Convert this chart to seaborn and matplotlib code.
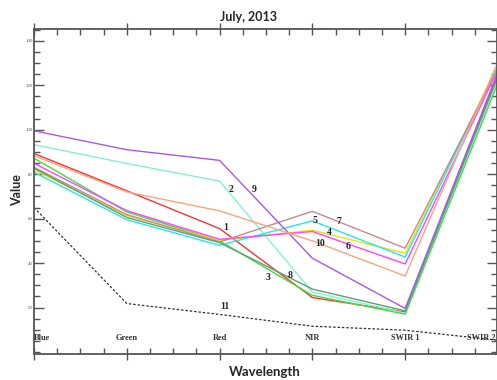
import matplotlib
matplotlib.use("Agg")
import matplotlib.pyplot as plt
from matplotlib.ticker import MultipleLocator
import seaborn as sns
import numpy as np
import pandas as pd

# bands on the x axis
bands = ["Blue", "Green", "Red", "NIR", "SWIR 1", "SWIR 2"]

# reflectance values, one list per sample
s1 = [89.3, 72.5, 55.5, 24.5, 18.0, 125.0]
s2 = [93.3, 84.8, 76.9, 27.0, 17.5, 123.0]
s3 = [87.2, 63.0, 50.0, 25.5, 17.0, 121.0]
s4 = [81.9, 61.3, 50.2, 54.8, 44.4, 129.0]
s5 = [80.9, 59.5, 48.0, 59.0, 42.7, 128.5]
s6 = [84.9, 63.6, 50.7, 54.2, 39.6, 127.0]
s7 = [83.1, 61.8, 49.5, 63.3, 46.7, 127.5]
s8 = [82.7, 60.5, 49.2, 28.3, 18.5, 124.0]
s9 = [99.5, 91.0, 86.2, 42.2, 19.6, 126.0]
s10 = [88.3, 72.0, 63.5, 50.0, 34.2, 130.5]
s11 = [65.0, 21.8, 16.9, 11.6, 9.8, 5.3]

names = ["1", "2", "3", "4", "5", "6", "7", "8", "9", "10", "11"]
series = [s1, s2, s3, s4, s5, s6, s7, s8, s9, s10, s11]
colors = ["#ff3333", "#86f0d4", "#3ee03e", "#f2e200", "#22e8f0", "#ff44ff",
          "#c48a8e", "#5e9e7a", "#a857ee", "#ffa27e", "#333333"]

# where the sample numbers are written (data coords)
lab_x = [2.07, 2.12, 2.52, 3.18, 3.03, 3.39, 3.29, 2.76, 2.37, 3.08, 2.06]
lab_y = [56.0, 72.9, 33.3, 53.8, 59.1, 47.6, 58.7, 34.2, 72.9, 48.9, 20.4]

rows = []
for n, vals in zip(names, series):
    for i, v in enumerate(vals):
        rows.append({"sample": n, "pos": i, "value": v})
df = pd.DataFrame(rows)

sns.set_style("white")
plt.rcParams["font.family"] = ["DejaVu Sans"]

fig = plt.figure(figsize=(4.97, 3.80), dpi=100)
ax = fig.add_axes([34 / 497, 26 / 380, 463 / 497, 325 / 380])

pal = dict(zip(names, colors))
dashes = {n: "" for n in names}
dashes["11"] = (2, 1.5)
sns.lineplot(data=df, x="pos", y="value", hue="sample", style="sample",
             palette=pal, dashes=dashes, hue_order=names, style_order=names,
             legend=False, sort=False, linewidth=1.0, ax=ax)
ax.get_lines()[-1].set_linewidth(0.9)

ax.set_xlim(0, 4.99)
ax.set_ylim(-0.9, 145.3)

for x, y, t in zip(lab_x, lab_y, names):
    ax.text(x, y, t, fontsize=7, fontweight="bold", family="Liberation Serif",
            color="#222222", ha="center", va="center")

for i, b in enumerate(bands):
    if i == 0:
        xx, ha = 0.0, "left"
    elif i == 5:
        xx, ha = 4.97, "right"
    else:
        xx, ha = i, "center"
    ax.text(xx, 6.2, b, fontsize=6, fontweight="bold", family="Liberation Serif",
            color="#333333", ha=ha, va="center")

ax.xaxis.set_major_locator(MultipleLocator(1))
ax.xaxis.set_minor_locator(MultipleLocator(0.25))
ax.yaxis.set_major_locator(MultipleLocator(20))
ax.yaxis.set_minor_locator(MultipleLocator(5))
ax.set_xticklabels([])
ax.tick_params(axis="x", which="major", direction="inout", length=9, width=1,
               color="#555555", top=True, bottom=True, labelbottom=False)
ax.tick_params(axis="x", which="minor", direction="in", length=4, width=1,
               color="#555555", top=True, bottom=True)
ax.tick_params(axis="y", which="major", direction="in", length=7, width=1,
               color="#555555", left=True, right=True, labelsize=3.5,
               labelcolor="#555555", pad=1)
ax.tick_params(axis="y", which="minor", direction="in", length=4, width=1,
               color="#555555", left=True, right=True)
ax.set_yticks([20, 40, 60, 80, 100, 120, 140])
ax.set_yticklabels(["20", "40", "60", "80", "100", "120", "140"],
                   family="Liberation Serif")
for sp in ax.spines.values():
    sp.set_color("#555555")
    sp.set_linewidth(1.3)

ax.set_xlabel("")
ax.set_ylabel("")
fig.text(0.5, 0.955, "July, 2013", fontsize=9, fontweight="bold",
         family="Lato", ha="center", va="center")
fig.text(17 / 497, 190 / 380, "Value", fontsize=9, fontweight="bold",
         family="Lato", rotation=90, ha="center", va="center")
fig.text(265 / 497, 1 - 372 / 380, "Wavelength", fontsize=9.5, fontweight="bold",
         family="Lato", ha="center", va="center")

fig.savefig("out.png", dpi=100)
